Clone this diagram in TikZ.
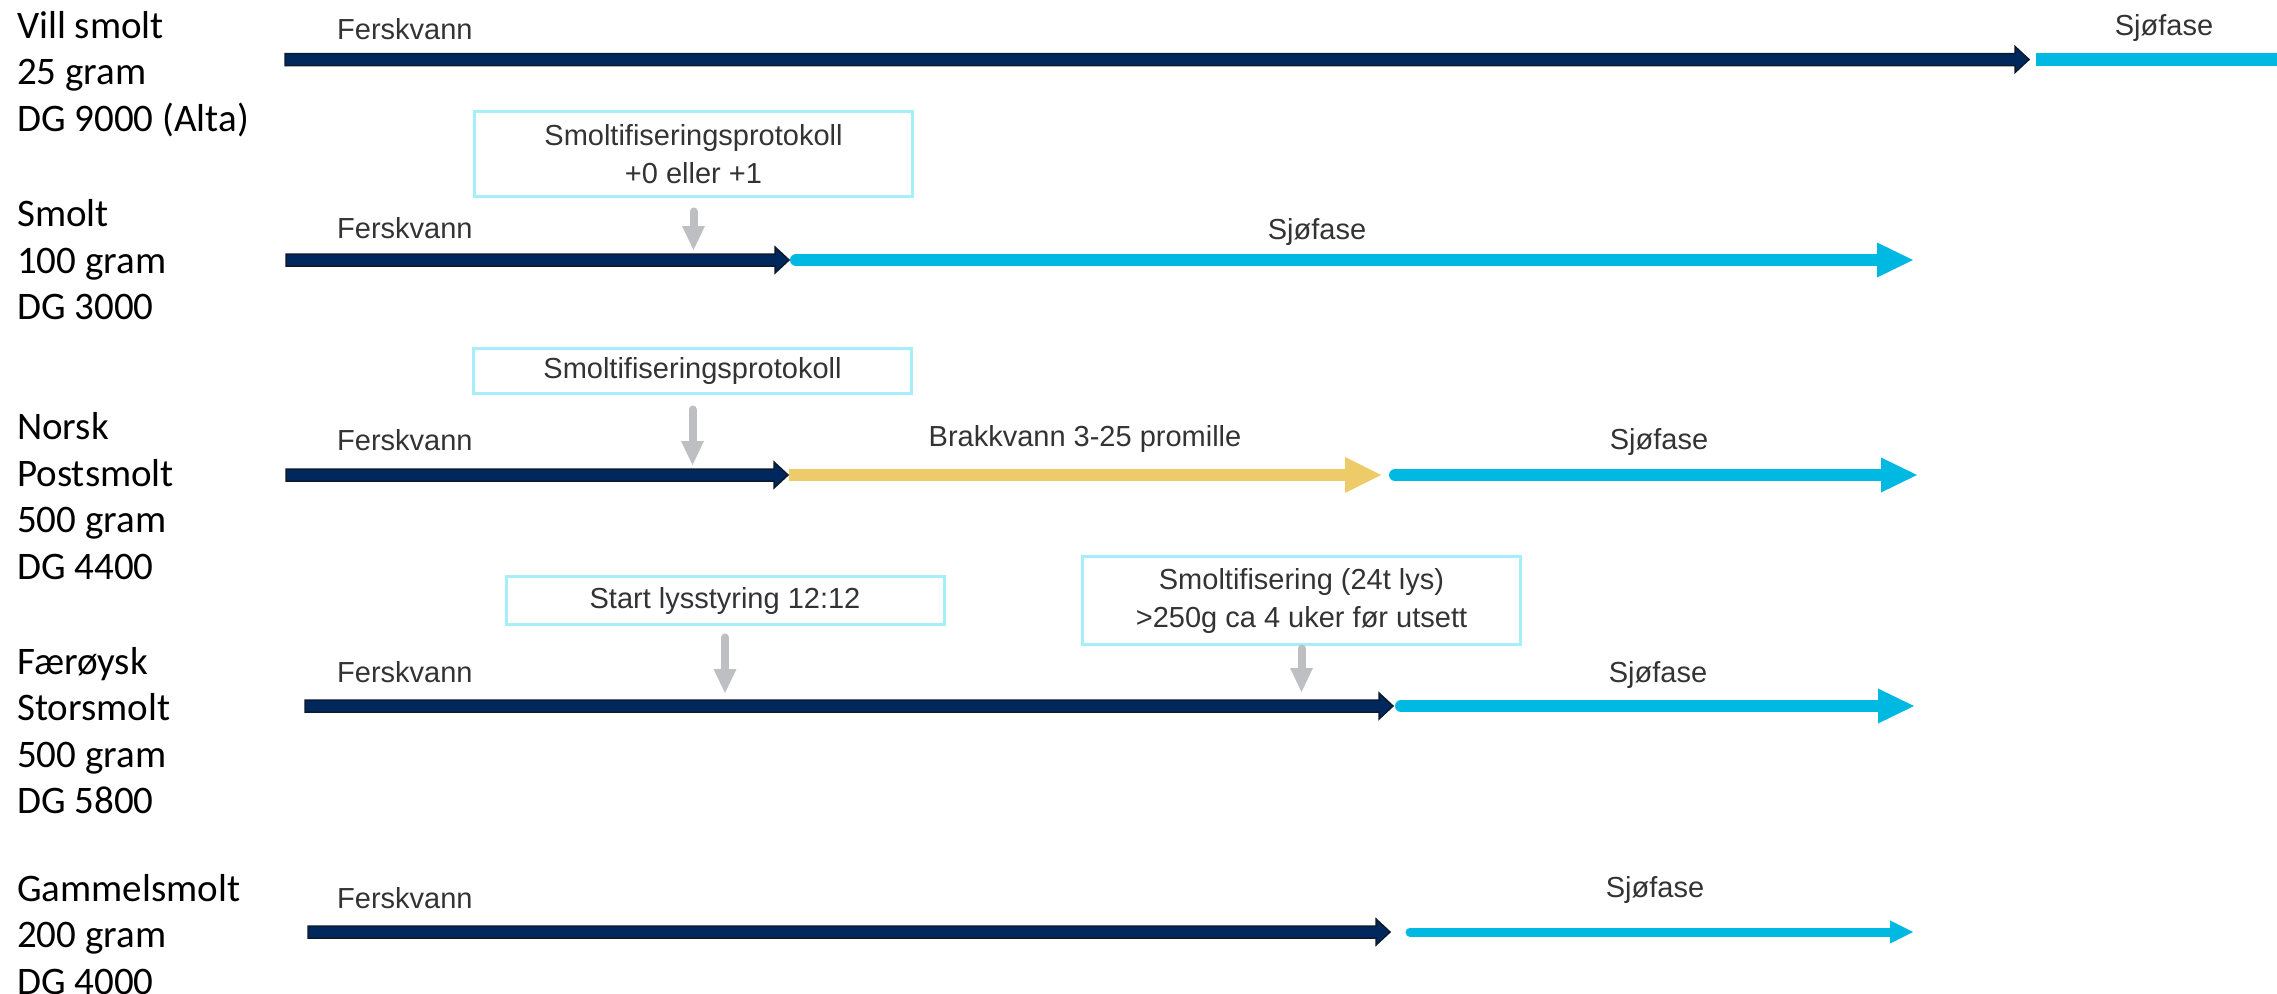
\documentclass[tikz,border=0pt]{standalone}
\usepackage{fontspec}
\setmainfont{Liberation Sans}
\newfontfamily\labelfont{Carlito}
\usetikzlibrary{arrows.meta,calc}

\definecolor{navy}{HTML}{00285C}
\definecolor{navyedge}{HTML}{0B1A2E}
\definecolor{sea}{HTML}{00B9E3}
\definecolor{brack}{HTML}{EDCB69}
\definecolor{pointer}{HTML}{BDBFC3}
\definecolor{boxedge}{HTML}{A6EEFA}
\definecolor{ink}{HTML}{333333}

\tikzset{
  x=1pt, y=-1pt,
  % multi-line titles are placed by the baseline of their last line
  rowlabel/.style={font=\labelfont\fontsize{39}{46.5}\selectfont, align=left,
    anchor=base west, inner sep=0pt, text=black},
  phase/.style={font=\fontsize{29}{35}\selectfont, text=ink, inner sep=0pt, anchor=base},
  notebox/.style={draw=boxedge, line width=3pt, fill=white, text=ink,
    font=\fontsize{29}{38}\selectfont, align=center, minimum width=438pt, inner sep=0pt},
  fresh/.style={fill=navy, draw=navyedge, line width=1.5pt, line join=miter},
  seaarrow/.style={draw=sea, line width=12pt, line cap=round,
    -{Triangle[length=36pt,width=35pt,line width=0pt]}},
  brackarrow/.style={draw=brack, line width=12pt,
    -{Triangle[length=36pt,width=36pt,line width=0pt]}},
  pointerarrow/.style={draw=pointer, line width=8pt, line cap=round,
    -{Triangle[length=24pt,width=23pt,line width=0pt]}},
}

% freshwater bar with an outlined block head, from #1 to #2
\newcommand\freshbar[2]{%
  \path[fresh] let \p1=(#1), \p2=(#2) in
    (\x1,\y1+6pt) -- (\x2-14pt,\y1+6pt) -- (\x2-14pt,\y1+13pt) -- (\x2,\y1)
    -- (\x2-14pt,\y1-13pt) -- (\x2-14pt,\y1-6pt) -- (\x1,\y1-6pt) -- cycle;}

\begin{document}
\begin{tikzpicture}
\useasboundingbox (0,0) rectangle (2277,993);

% row titles
\node[rowlabel] (vill) at (17,131) {Vill smolt\\25 gram\\DG 9000 (Alta)};
\node[rowlabel] (smolt) at (17,319.5) {Smolt\\100 gram\\DG 3000};
\node[rowlabel] (norsk) at (17,579) {Norsk\\Postsmolt\\500 gram\\DG 4400};
\node[rowlabel] (faroe) at (17,813.5) {Færøysk\\Storsmolt\\500 gram\\DG 5800};
\node[rowlabel] (gammel) at (17,994) {Gammelsmolt\\200 gram\\DG 4000};

% timeline anchor points
\coordinate (f1s) at (285,59.5);  \coordinate (f1e) at (2029,59.5);
\coordinate (s1s) at (2036,59.5); \coordinate (s1e) at (2277,59.5);
\coordinate (f2s) at (286,260);   \coordinate (f2e) at (789,260);
\coordinate (s2s) at (796,260);   \coordinate (s2e) at (1913,260);
\coordinate (f3s) at (286,475);   \coordinate (f3e) at (788,475);
\coordinate (b3s) at (789,475);   \coordinate (b3e) at (1381,475);
\coordinate (s3s) at (1395,475);  \coordinate (s3e) at (1917,475);
\coordinate (f4s) at (305,706);   \coordinate (f4e) at (1393,706);
\coordinate (s4s) at (1401,706);  \coordinate (s4e) at (1914,706);
\coordinate (f5s) at (308,932);   \coordinate (f5e) at (1390,932);
\coordinate (s5s) at (1410,932);  \coordinate (s5e) at (1913,932);

% row 1
\freshbar{f1s}{f1e}
\draw[sea, line width=13pt] (s1s) -- (s1e);
\node[phase, anchor=base west] (fw1) at (337,39) {Ferskvann};
\node[phase] (sea1) at (2164,35) {Sjøfase};

% row 2
\freshbar{f2s}{f2e}
\draw[seaarrow] (s2s) -- (s2e);
\node[phase, anchor=base west] (fw2) at (337,238) {Ferskvann};
\node[phase] (sea2) at (1317,239) {Sjøfase};
\node[notebox, minimum height=85pt] (box2) at (693.5,154) {Smoltifiseringsprotokoll\\+0 eller +1};
\coordinate (t2) at (box2.south |- 0,250);
\draw[pointerarrow] ([yshift=-13.5pt]box2.south) -- (t2);

% row 3
\freshbar{f3s}{f3e}
\draw[brackarrow] (b3s) -- (b3e);
\draw[seaarrow] (s3s) -- (s3e);
\node[phase, anchor=base west] (fw3) at (337,450) {Ferskvann};
\node[phase] (brk3) at (1085,446) {Brakkvann 3-25 promille};
\node[phase] (sea3) at (1659,449) {Sjøfase};
\node[notebox, minimum height=45pt] (box3) at (692.5,371) {Smoltifiseringsprotokoll};
\coordinate (t3) at (box3.south |- 0,465);
\draw[pointerarrow] ([yshift=-14.5pt]box3.south) -- (t3);

% row 4
\freshbar{f4s}{f4e}
\draw[seaarrow] (s4s) -- (s4e);
\node[phase, anchor=base west] (fw4) at (337,682) {Ferskvann};
\node[phase] (sea4) at (1658,682) {Sjøfase};
\node[notebox, minimum height=48pt] (box4a) at (725,600.5) {Start lysstyring 12:12};
\node[notebox, minimum height=88pt] (box4b) at (1301.5,600.5) {Smoltifisering (24t lys)\\>250g ca 4 uker før utsett};
\coordinate (t4a) at (box4a.south |- 0,693);
\coordinate (t4b) at (box4b.south |- 0,692);
\draw[pointerarrow] ([yshift=-11.5pt]box4a.south) -- (t4a);
\draw[pointerarrow] ([yshift=-2.5pt]box4b.south) -- (t4b);

% row 5
\freshbar{f5s}{f5e}
\draw[draw=sea, line width=9pt, line cap=round,
  -{Triangle[length=23pt,width=23pt,line width=0pt]}] (s5s) -- (s5e);
\node[phase, anchor=base west] (fw5) at (337,908) {Ferskvann};
\node[phase] (sea5) at (1655,897) {Sjøfase};
\end{tikzpicture}
\end{document}
